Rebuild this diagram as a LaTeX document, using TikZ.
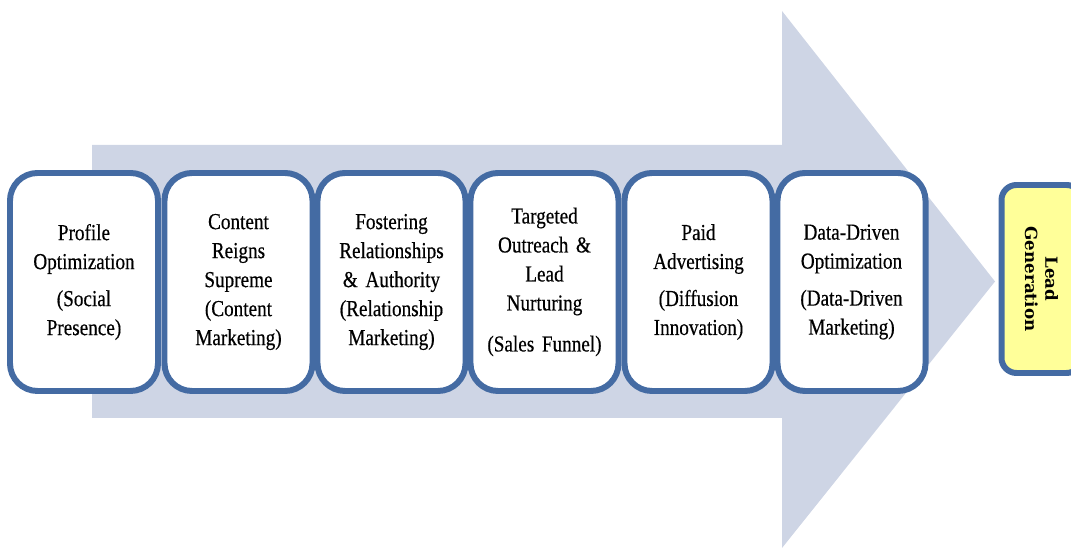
\documentclass[tikz,border=0pt]{standalone}
\usepackage{fontspec}
\setmainfont{Liberation Serif}[FakeStretch=0.84, WordSpace=0.7, FakeBold=0.4]
\newfontfamily\leadfont{DejaVu Serif}

\definecolor{arrowgray}{RGB}{206,213,229}
\definecolor{boxblue}{RGB}{68,107,163}
\definecolor{leadyellow}{RGB}{255,255,153}

\begin{document}
\begin{tikzpicture}[
	stage/.style={draw=boxblue, line width=3.4pt, fill=white, rounded corners=0.55cm,
		minimum width=2.96cm, minimum height=4.36cm, text width=2.8cm,
		execute at begin node=\centering, inner sep=0pt,
		font=\fontsize{13}{16.5}\selectfont},
	goal/.style={draw=boxblue, line width=3.4pt, fill=leadyellow, rounded corners=0.3cm,
		rotate=-90, minimum width=3.76cm, minimum height=1.6cm, align=center,
		inner sep=0pt, font=\leadfont\bfseries\fontsize{9.5}{11.5}\selectfont}]
	\clip (0,0) rectangle (21.42,10.98);

	\fill[arrowgray] (1.84,2.62) -- (15.64,2.62) -- (15.64,0.02) -- (19.9,5.35)
		-- (15.64,10.76) -- (15.64,8.08) -- (1.84,8.08) -- cycle;

	\node[stage] (s1) at (1.68,5.34) {Profile\\Optimization\\[0.16cm](Social\\Presence)};
	\node[stage] (s2) at (4.77,5.34) {Content\\Reigns\\Supreme\\(Content\\Marketing)};
	\node[stage] (s3) at (7.83,5.34) {Fostering\\Relationships\\\& Authority\\(Relationship\\Marketing)};
	\node[stage] (s4) at (10.89,5.34) {Targeted\\Outreach \&\\Lead\\Nurturing\\[0.24cm](Sales Funnel)};
	\node[stage] (s5) at (13.97,5.34) {Paid\\Advertising\\[0.16cm](Diffusion\\Innovation)};
	\node[stage] (s6) at (17.03,5.34) {Data-Driven\\Optimization\\[0.16cm](Data-Driven\\Marketing)};

	\node[goal] (lead) at (20.83,5.40) {Lead\\Generation};
\end{tikzpicture}
\end{document}
